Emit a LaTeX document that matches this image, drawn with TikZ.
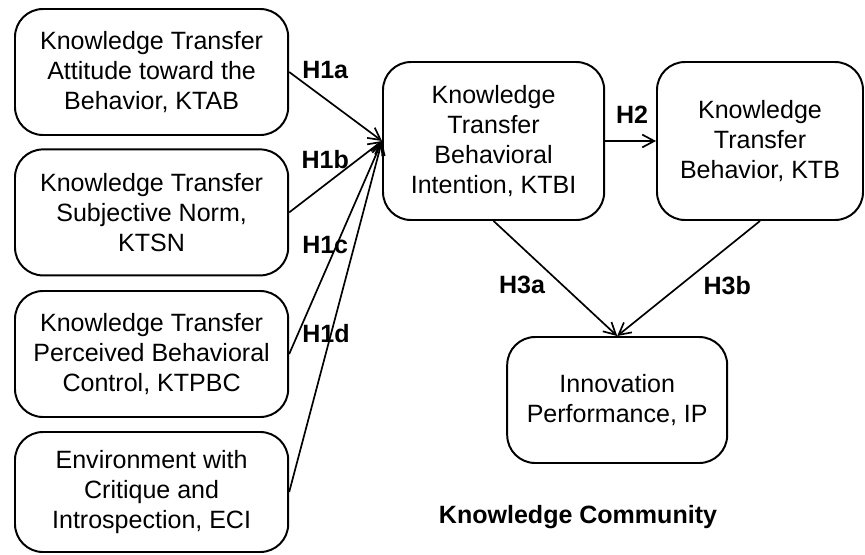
\documentclass[tikz,border=0pt]{standalone}
\usepackage{fontspec}
\setmainfont{Liberation Sans}
\usepackage{tikz}
\usetikzlibrary{arrows.meta,positioning}
\tikzstyle{construct}=[rectangle, draw=black, line width=1.4pt, rounded corners=0.7cm, align=center, inner sep=0pt, font=\fontsize{17.8}{21.3}\selectfont]
\tikzstyle{side}=[construct, minimum width=6.83cm, minimum height=3.15cm]
\tikzstyle{hyp}=[font=\fontsize{17.8}{21.3}\selectfont\bfseries]
\tikzstyle{link}=[line width=1.2pt, -{Straight Barb[length=0.3cm,width=0.32cm,line width=1.2pt]}]

\begin{document}
\begin{tikzpicture}
\useasboundingbox (0,0) rectangle (21.625,-13.85);
%Left column
\node[side] (ktab)  at (3.79,-1.80){Knowledge Transfer\\Attitude toward the\\Behavior, KTAB};
\node[side] (ktsn)  at (3.79,-5.31){Knowledge Transfer\\Subjective Norm,\\KTSN};
\node[side] (ktpbc) at (3.79,-8.85){Knowledge Transfer\\Perceived Behavioral\\Control, KTPBC};
\node[side, minimum height=3.0cm] (eci) at (3.79,-12.30){Environment with\\Critique and\\Introspection, ECI};
%Right part
\node[construct, minimum width=5.53cm, minimum height=3.95cm] (ktbi) at (12.34,-3.525){Knowledge\\Transfer\\Behavioral\\Intention, KTBI};
\node[construct, minimum width=5.15cm, minimum height=3.95cm] (ktb) at (19.0,-3.525){Knowledge\\Transfer\\Behavior, KTB};
\node[construct, minimum width=5.5cm, minimum height=3.15cm] (ip) at (15.43,-10.0){Innovation\\Performance, IP};
\node[hyp] (kc) at (14.45,-12.93){Knowledge Community};
%Hypotheses
\draw[link] (ktab.east)  -- (ktbi.west);
\draw[link] (ktsn.east)  -- (ktbi.west);
\draw[link] (ktpbc.east) -- (ktbi.west);
\draw[link] (eci.east)   -- (ktbi.west);
\draw[link] (ktbi.east)  -- (ktb.west);
\draw[link] (ktbi.south) -- (ip.north);
\draw[link] (ktb.south)  -- (ip.north);
\node[hyp] (h1a) at (8.13,-1.75){H1a};
\node[hyp] (h1b) at (8.13,-4.0){H1b};
\node[hyp] (h1c) at (8.13,-6.13){H1c};
\node[hyp] (h1d) at (8.15,-8.33){H1d};
\node[hyp] (h2)  at (15.8,-2.88){H2};
\node[hyp] (h3a) at (13.05,-7.13){H3a};
\node[hyp] (h3b) at (18.18,-7.13){H3b};
\end{tikzpicture}
\end{document}
